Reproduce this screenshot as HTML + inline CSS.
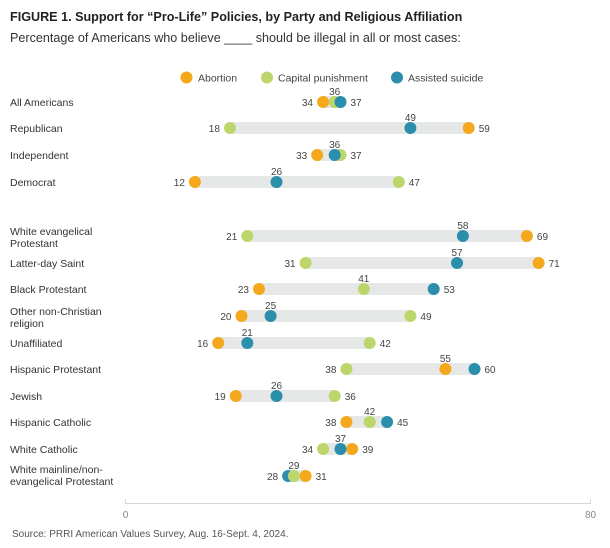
<!DOCTYPE html>
<html><head><meta charset="utf-8"><style>
body{margin:0;background:#fff}
svg{display:block;font-family:"Liberation Sans",sans-serif}
</style></head><body>
<svg width="610" height="548" viewBox="0 0 610 548" xmlns="http://www.w3.org/2000/svg">
<text x="10" y="21" font-size="12.6" font-weight="bold" fill="#222">FIGURE 1.  Support for “Pro-Life” Policies, by Party and Religious Affiliation</text>
<text x="10" y="42" font-size="12.6" fill="#333">Percentage of Americans who believe ____ should be illegal in all or most cases:</text>
<g font-size="10.5" fill="#444">
<circle cx="186.5" cy="77.5" r="6" fill="#f5a81c"/><text x="198" y="81.5">Abortion</text>
<circle cx="267" cy="77.5" r="6" fill="#bcd66c"/><text x="278" y="81.5">Capital punishment</text>
<circle cx="397" cy="77.5" r="6" fill="#2b8eab"/><text x="408" y="81.5">Assisted suicide</text>
</g>
<g font-size="10.5" fill="#333">
<text x="10" y="106">All Americans</text>
<text x="10" y="132">Republican</text>
<text x="10" y="159">Independent</text>
<text x="10" y="186">Democrat</text>
<text x="10" y="235">White evangelical</text><text x="10" y="247">Protestant</text>
<text x="10" y="267">Latter-day Saint</text>
<text x="10" y="293">Black Protestant</text>
<text x="10" y="315">Other non-Christian</text><text x="10" y="327">religion</text>
<text x="10" y="347">Unaffiliated</text>
<text x="10" y="373">Hispanic Protestant</text>
<text x="10" y="400">Jewish</text>
<text x="10" y="426">Hispanic Catholic</text>
<text x="10" y="453">White Catholic</text>
<text x="10" y="473">White mainline/non-</text><text x="10" y="485">evangelical Protestant</text>
</g>
<g fill="#e6e8e8">
<rect x="323.1" y="96" width="17.4" height="12"/>
<rect x="229.9" y="122" width="238.8" height="12"/>
<rect x="317.2" y="149" width="23.3" height="12"/>
<rect x="194.9" y="176" width="203.9" height="12"/>
<rect x="247.3" y="230" width="279.6" height="12"/>
<rect x="305.6" y="257" width="233" height="12"/>
<rect x="259" y="283" width="174.7" height="12"/>
<rect x="241.5" y="310" width="168.9" height="12"/>
<rect x="218.2" y="337" width="151.5" height="12"/>
<rect x="346.4" y="363" width="128.1" height="12"/>
<rect x="235.7" y="390" width="99" height="12"/>
<rect x="346.4" y="416" width="40.7" height="12"/>
<rect x="323.1" y="443" width="29.1" height="12"/>
<rect x="288.1" y="470" width="17.5" height="12"/>
</g>
<g>
<circle cx="323.1" cy="102" r="6" fill="#f5a81c"/><circle cx="334.7" cy="102" r="6" fill="#bcd66c"/><circle cx="340.5" cy="102" r="6" fill="#2b8eab"/>
<circle cx="468.7" cy="128" r="6" fill="#f5a81c"/><circle cx="229.9" cy="128" r="6" fill="#bcd66c"/><circle cx="410.4" cy="128" r="6" fill="#2b8eab"/>
<circle cx="317.2" cy="155" r="6" fill="#f5a81c"/><circle cx="340.5" cy="155" r="6" fill="#bcd66c"/><circle cx="334.7" cy="155" r="6" fill="#2b8eab"/>
<circle cx="194.9" cy="182" r="6" fill="#f5a81c"/><circle cx="398.8" cy="182" r="6" fill="#bcd66c"/><circle cx="276.5" cy="182" r="6" fill="#2b8eab"/>
<circle cx="526.9" cy="236" r="6" fill="#f5a81c"/><circle cx="247.3" cy="236" r="6" fill="#bcd66c"/><circle cx="462.9" cy="236" r="6" fill="#2b8eab"/>
<circle cx="538.6" cy="263" r="6" fill="#f5a81c"/><circle cx="305.6" cy="263" r="6" fill="#bcd66c"/><circle cx="457" cy="263" r="6" fill="#2b8eab"/>
<circle cx="259" cy="289" r="6" fill="#f5a81c"/><circle cx="363.8" cy="289" r="6" fill="#bcd66c"/><circle cx="433.7" cy="289" r="6" fill="#2b8eab"/>
<circle cx="241.5" cy="316" r="6" fill="#f5a81c"/><circle cx="410.4" cy="316" r="6" fill="#bcd66c"/><circle cx="270.6" cy="316" r="6" fill="#2b8eab"/>
<circle cx="218.2" cy="343" r="6" fill="#f5a81c"/><circle cx="369.7" cy="343" r="6" fill="#bcd66c"/><circle cx="247.3" cy="343" r="6" fill="#2b8eab"/>
<circle cx="445.4" cy="369" r="6" fill="#f5a81c"/><circle cx="346.4" cy="369" r="6" fill="#bcd66c"/><circle cx="474.5" cy="369" r="6" fill="#2b8eab"/>
<circle cx="235.7" cy="396" r="6" fill="#f5a81c"/><circle cx="334.7" cy="396" r="6" fill="#bcd66c"/><circle cx="276.5" cy="396" r="6" fill="#2b8eab"/>
<circle cx="346.4" cy="422" r="6" fill="#f5a81c"/><circle cx="369.7" cy="422" r="6" fill="#bcd66c"/><circle cx="387.1" cy="422" r="6" fill="#2b8eab"/>
<circle cx="352.2" cy="449" r="6" fill="#f5a81c"/><circle cx="323.1" cy="449" r="6" fill="#bcd66c"/><circle cx="340.5" cy="449" r="6" fill="#2b8eab"/>
<circle cx="305.6" cy="476" r="6" fill="#f5a81c"/><circle cx="288.1" cy="476" r="6" fill="#2b8eab"/><circle cx="293.9" cy="476" r="6" fill="#bcd66c"/>
</g>
<g font-size="10" fill="#444">
<text x="313" y="106" text-anchor="end">34</text><text x="334.7" y="95" text-anchor="middle">36</text><text x="350.5" y="106">37</text>
<text x="219.9" y="132" text-anchor="end">18</text><text x="410.4" y="121" text-anchor="middle">49</text><text x="478.7" y="132">59</text>
<text x="307.2" y="159" text-anchor="end">33</text><text x="334.7" y="148" text-anchor="middle">36</text><text x="350.5" y="159">37</text>
<text x="184.9" y="186" text-anchor="end">12</text><text x="276.5" y="175" text-anchor="middle">26</text><text x="408.8" y="186">47</text>
<text x="237.3" y="240" text-anchor="end">21</text><text x="462.9" y="229" text-anchor="middle">58</text><text x="536.9" y="240">69</text>
<text x="295.6" y="267" text-anchor="end">31</text><text x="457" y="256" text-anchor="middle">57</text><text x="548.6" y="267">71</text>
<text x="249" y="293" text-anchor="end">23</text><text x="363.8" y="282" text-anchor="middle">41</text><text x="443.7" y="293">53</text>
<text x="231.5" y="320" text-anchor="end">20</text><text x="270.6" y="309" text-anchor="middle">25</text><text x="420.4" y="320">49</text>
<text x="208.2" y="347" text-anchor="end">16</text><text x="247.3" y="336" text-anchor="middle">21</text><text x="379.7" y="347">42</text>
<text x="336.4" y="373" text-anchor="end">38</text><text x="445.4" y="362" text-anchor="middle">55</text><text x="484.5" y="373">60</text>
<text x="225.7" y="400" text-anchor="end">19</text><text x="276.5" y="389" text-anchor="middle">26</text><text x="344.7" y="400">36</text>
<text x="336.4" y="426" text-anchor="end">38</text><text x="369.7" y="415" text-anchor="middle">42</text><text x="397.1" y="426">45</text>
<text x="313.1" y="453" text-anchor="end">34</text><text x="340.5" y="442" text-anchor="middle">37</text><text x="362.2" y="453">39</text>
<text x="278.1" y="480" text-anchor="end">28</text><text x="293.9" y="469" text-anchor="middle">29</text><text x="315.6" y="480">31</text>
</g>
<g stroke="#d5d7d7" stroke-width="1" fill="none">
<line x1="125.5" y1="503.5" x2="590.5" y2="503.5"/>
<line x1="125.5" y1="499" x2="125.5" y2="504"/>
<line x1="590.5" y1="499" x2="590.5" y2="504"/>
</g>
<g font-size="10" fill="#888" text-anchor="middle">
<text x="125.5" y="518">0</text><text x="590.5" y="518">80</text>
</g>
<text x="12" y="537" font-size="10" fill="#555">Source: PRRI American Values Survey, Aug. 16-Sept. 4, 2024.</text>
</svg>
</body></html>
